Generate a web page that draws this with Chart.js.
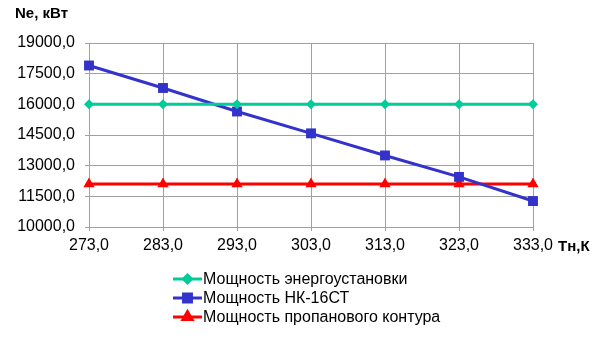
<!DOCTYPE html>
<html>
<head>
<meta charset="utf-8">
<script src="https://cdn.jsdelivr.net/npm/chart.js@4/dist/chart.umd.min.js"></script>
<style>
  html, body { margin: 0; padding: 0; background: #fff; }
  #wrap { width: 605px; height: 355px; position: relative; }
</style>
</head>
<body>
<div id="wrap"><canvas id="chart" width="605" height="355"></canvas></div>
<script>
// Данные
const temps = ['273,0', '283,0', '293,0', '303,0', '313,0', '323,0', '333,0'];
const plantPower = [16000, 16000, 16000, 16000, 16000, 16000, 16000];
const nk16Power = [17900, 16800, 15650, 14580, 13500, 12450, 11270];
const propanePower = [12100, 12100, 12100, 12100, 12100, 12100, 12100];
const seriesNames = ['Мощность энергоустановки', 'Мощность НК-16СТ', 'Мощность пропанового контура'];

const FONT = "'Liberation Sans', Arial, sans-serif";

// подписи осей и легенда в стиле Excel
const extrasPlugin = {
  id: 'extras',
  afterDraw(chart) {
    const ctx = chart.ctx;
    ctx.save();
    ctx.fillStyle = '#000';
    ctx.font = 'bold 15px ' + FONT;
    ctx.textBaseline = 'middle';
    ctx.textAlign = 'left';
    ctx.fillText('Ne, кВт', 15, 14);
    ctx.fillText('Тн,К', 558, 247);

    // legend
    const x0 = 173, x1 = 202, rowY = [279, 298, 317];
    chart.data.datasets.forEach((ds, i) => {
      const y = rowY[i];
      ctx.strokeStyle = ds.borderColor;
      ctx.lineWidth = 3;
      ctx.beginPath();
      ctx.moveTo(x0, y);
      ctx.lineTo(x1, y);
      ctx.stroke();
      Chart.helpers.drawPoint(ctx, {
        pointStyle: ds.pointStyle,
        radius: ds.pointRadius * 0.8,
        borderWidth: 1
      }, (x0 + x1) / 2, y);
      ctx.fillStyle = ds.borderColor;
      ctx.fill();
      ctx.fillStyle = '#000';
      ctx.font = '16px ' + FONT;
      ctx.fillText(seriesNames[i], 203, y + 1);
    });
    ctx.restore();
  }
};

new Chart(document.getElementById('chart'), {
  type: 'line',
  data: {
    labels: temps,
    datasets: [
      {
        label: seriesNames[0],
        data: plantPower,
        borderColor: '#00cc99',
        backgroundColor: '#00cc99',
        borderWidth: 3,
        pointStyle: 'rectRot',
        pointRadius: 5,
        pointBorderWidth: 0
      },
      {
        label: seriesNames[1],
        data: nk16Power,
        borderColor: '#3333cc',
        backgroundColor: '#3333cc',
        borderWidth: 3,
        pointStyle: 'rect',
        pointRadius: 7,
        pointBorderWidth: 0
      },
      {
        label: seriesNames[2],
        data: propanePower,
        borderColor: '#ff0000',
        backgroundColor: '#ff0000',
        borderWidth: 3,
        pointStyle: 'triangle',
        pointRadius: 6.5,
        pointBorderWidth: 0
      }
    ]
  },
  options: {
    responsive: false,
    animation: false,
    layout: { padding: { top: 43, right: 72, left: 0, bottom: 0 } },
    plugins: {
      legend: { display: false },
      tooltip: { enabled: false }
    },
    scales: {
      x: {
        offset: false,
        afterFit: s => { s.height = 128; },
        grid: { color: '#a0a0a0', tickLength: 4, lineWidth: 1 },
        border: { display: false },
        ticks: { color: '#000', font: { family: FONT, size: 16 }, padding: 5, maxRotation: 0 }
      },
      y: {
        min: 10000,
        max: 19000,
        afterFit: s => { s.width = 89; },
        grid: { color: '#a0a0a0', tickLength: 4, lineWidth: 1 },
        border: { display: false },
        ticks: {
          stepSize: 1500,
          color: '#000',
          padding: 10,
          font: { family: FONT, size: 16 },
          callback: v => v.toFixed(1).replace('.', ',')
        }
      }
    }
  },
  plugins: [extrasPlugin]
});
</script>
</body>
</html>
